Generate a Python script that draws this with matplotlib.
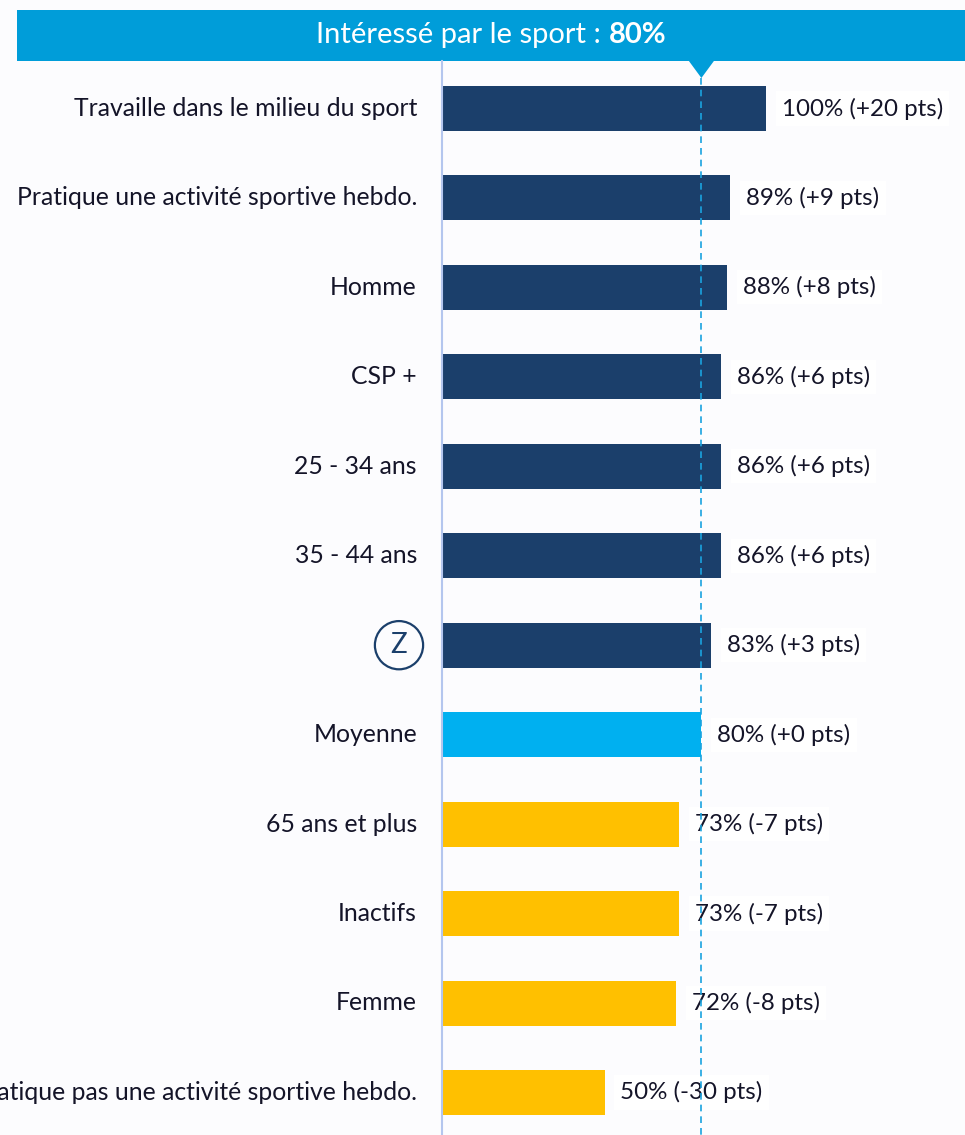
import matplotlib
matplotlib.use("Agg")
import matplotlib.pyplot as plt
from matplotlib.patches import Rectangle, Polygon

categories = [
    "Travaille dans le milieu du sport",
    "Pratique une activité sportive hebdo.",
    "Homme",
    "CSP +",
    "25 - 34 ans",
    "35 - 44 ans",
    "Z",
    "Moyenne",
    "65 ans et plus",
    "Inactifs",
    "Femme",
    "Ne pratique pas une activité sportive hebdo.",
]
values = [100, 89, 88, 86, 86, 86, 83, 80, 73, 73, 72, 50]
average = 80
title_text = "Intéressé par le sport : "
title_value = "80%"

NAVY = "#1B3F6B"
LIGHT = "#00B0F0"
GOLD = "#FFC000"
BANNER = "#009DD9"
TXT = "#141428"
BG = "#FCFCFE"

plt.rcParams["font.family"] = ["Lato", "DejaVu Sans"]

W, H = 965, 1135
fig = plt.figure(figsize=(W / 100, H / 100), dpi=100, facecolor=BG)

def fx(px):
    return px / W

def fy(py):
    return 1 - py / H

# axes: 0% at pixel 443, 100% at pixel 766
x0, ppu = 443, 3.23
y0, step = 108.5, 89.45
ax = fig.add_axes([fx(x0), 0, fx(W - x0), 1])
ax.set_facecolor("none")
ax.set_xlim(0, (W - x0) / ppu)
ax.set_ylim((H - y0) / step, -y0 / step)
ax.axis("off")

colors = [NAVY if v > average else (LIGHT if v == average else GOLD) for v in values]
ypos = list(range(len(categories)))
ax.barh(ypos, values, height=45 / step, color=colors, zorder=2)

for i, (cat, v) in enumerate(zip(categories, values)):
    if cat == "Z":
        ax.annotate(cat, xy=(0, i), xytext=(-44, 0), textcoords="offset pixels",
                    ha="center", va="center", fontsize=20, color=NAVY,
                    annotation_clip=False,
                    bbox=dict(boxstyle="circle,pad=0.4", fc="none", ec=NAVY, lw=1.6))
    else:
        ax.annotate(cat, xy=(0, i), xytext=(-26, 0), textcoords="offset pixels",
                    ha="right", va="center", fontsize=17.8, color=TXT,
                    annotation_clip=False)
    ax.annotate(f"{v}% ({v - average:+d} pts)", xy=(v, i), xytext=(16, 0),
                textcoords="offset pixels", ha="left", va="center",
                fontsize=17.4, color=TXT, zorder=3,
                bbox=dict(boxstyle="square,pad=0.25", fc="white", ec="none"))

# axis line and average line
fig.add_artist(plt.Line2D([fx(442), fx(442)], [fy(61), 0], color="#B4C6EE", lw=1.5))
xa = fig.transFigure.inverted().transform(ax.transData.transform((average, 0)))[0]
fig.add_artist(plt.Line2D([xa, xa], [fy(78), 0], color="#1AA3DF", lw=1.2,
                          ls=(0, (4, 3)), zorder=10))

# banner
fig.add_artist(Rectangle((fx(17), fy(61)), fx(W - 17), fy(10) - fy(61),
                         fc=BANNER, ec="none", transform=fig.transFigure))
fig.add_artist(Polygon([(xa - fx(12.5), fy(61)), (xa + fx(12.5), fy(61)), (xa, fy(78))],
                       closed=True, fc=BANNER, ec="none", transform=fig.transFigure))

t1 = fig.text(0, fy(35), title_text, ha="left", va="center", fontsize=21, color="white")
t2 = fig.text(0, fy(35), title_value, ha="left", va="center", fontsize=21,
              color="white", fontweight="bold")
r = fig.canvas.get_renderer()
w1 = t1.get_window_extent(r).width
w2 = t2.get_window_extent(r).width
cx = (17 + W) / 2
start = cx - (w1 + w2) / 2
t1.set_x(fx(start))
t2.set_x(fx(start + w1))

fig.savefig("out.png", dpi=100, facecolor=BG)
